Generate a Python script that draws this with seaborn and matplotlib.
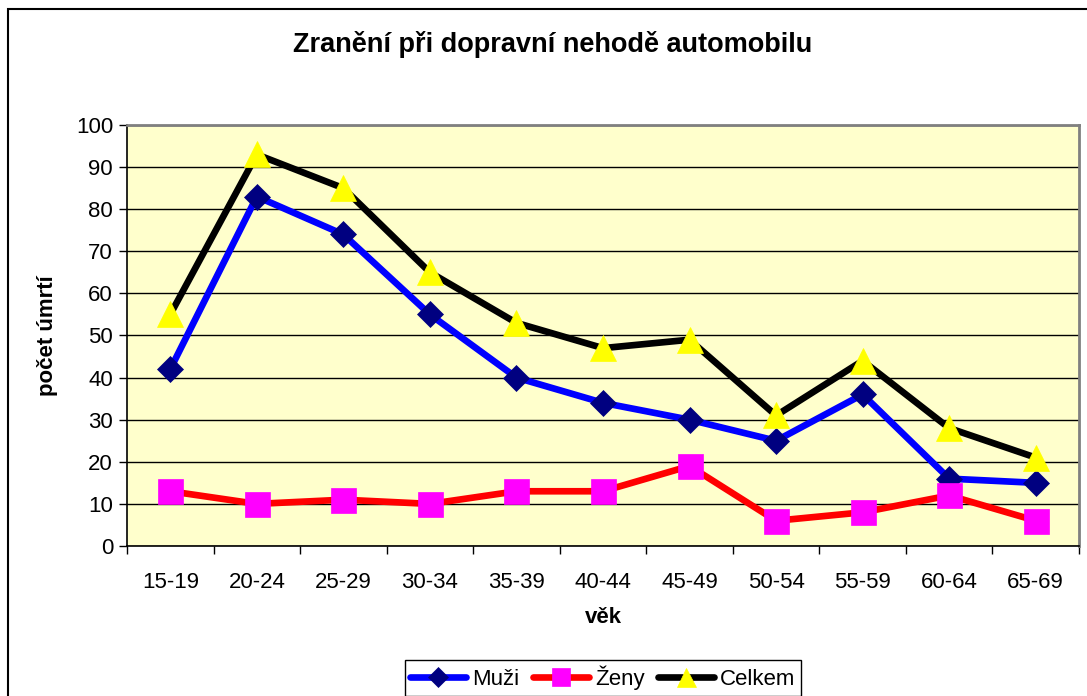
import matplotlib
matplotlib.use("Agg")
import matplotlib.pyplot as plt
import seaborn as sns
import pandas as pd
from matplotlib.patches import Rectangle
from matplotlib.ticker import FixedLocator, NullFormatter

categories = ["15-19", "20-24", "25-29", "30-34", "35-39", "40-44",
              "45-49", "50-54", "55-59", "60-64", "65-69"]
muzi = [42, 83, 74, 55, 40, 34, 30, 25, 36, 16, 15]
zeny = [13, 10, 11, 10, 13, 13, 19, 6, 8, 12, 6]
celkem = [55, 93, 85, 65, 53, 47, 49, 31, 44, 28, 21]
yticks = list(range(0, 101, 10))

sns.set_style("white")
plt.rcParams['font.family'] = ['Liberation Sans', 'DejaVu Sans']
plt.rcParams.update({"text.color": "black", "axes.labelcolor": "black",
                     "xtick.color": "black", "ytick.color": "black"})

fig = plt.figure(figsize=(10.87, 6.96), dpi=100)
ax = fig.add_axes([127/1087, 1-546/696, (1079-127)/1087, (546-125)/696])
ax.set_facecolor("#FFFFCC")

pos = list(range(len(categories)))
series = [
    ("Muži", muzi, dict(color="#0000FF", marker="D", markerfacecolor="#000080",
                        markeredgecolor="#000080", markersize=13.5)),
    ("Ženy", zeny, dict(color="#FF0000", marker="s", markerfacecolor="#FF00FF",
                        markeredgecolor="#FF00FF", markersize=18)),
    ("Celkem", celkem, dict(color="#000000", marker="^", markerfacecolor="#FFFF00",
                            markeredgecolor="#FFFF00", markersize=19)),
]
handles = []
for name, vals, style in series:
    df = pd.DataFrame({"x": pos, "y": vals})
    sns.lineplot(data=df, x="x", y="y", ax=ax, linewidth=4.8, label=name,
                 legend=False, markeredgewidth=0.5, clip_on=False, zorder=3, **style)
    handles.append(ax.lines[-1])

ax.set_xlim(-0.5, len(categories) - 0.5)
ax.set_ylim(0, 100)
ax.set_yticks(yticks)
ax.set_yticklabels([str(v) for v in yticks])
ax.yaxis.grid(True, color="black", linewidth=1.0)
ax.set_axisbelow(True)

# x ticks at category boundaries, labels at centers
ax.xaxis.set_major_locator(FixedLocator([i - 0.5 for i in range(len(categories) + 1)]))
ax.xaxis.set_major_formatter(NullFormatter())
ax.xaxis.set_minor_locator(FixedLocator(pos))
ax.set_xticklabels(categories, minor=True)
ax.tick_params(axis="x", which="major", direction="out", length=6, width=1, color="black", bottom=True)
ax.tick_params(axis="x", which="minor", length=0, labelsize=16, pad=19, bottom=True)
ax.tick_params(axis="y", direction="out", length=6, width=1, color="black", labelsize=16, pad=4, left=True)

for s in ["left", "bottom"]:
    ax.spines[s].set_color("black")
    ax.spines[s].set_linewidth(1.2)
for s in ["top", "right"]:
    ax.spines[s].set_color("#808080")
    ax.spines[s].set_linewidth(2)

ax.set_xlabel("věk", fontsize=16, fontweight="bold")
ax.set_ylabel("počet úmrtí", fontsize=16, fontweight="bold")
ax.xaxis.set_label_coords(0.5, -(607 - 546) / 421)
ax.yaxis.set_label_coords(-(127 - 58) / 952, 0.5)

fig.text(553/1087, 1-45/696, "Zranění při dopravní nehodě automobilu",
         fontsize=19.5, fontweight="bold", ha="center", va="center")

leg = fig.legend(handles=handles, labels=[h.get_label() for h in handles],
                 loc="center", bbox_to_anchor=(603/1087, 1-678/696), ncol=3,
                 fontsize=16, frameon=True, fancybox=False, framealpha=1,
                 edgecolor="black", handlelength=2.5, columnspacing=0.6,
                 handletextpad=0.3, borderpad=0.25, borderaxespad=0)
leg.get_frame().set_linewidth(1.0)
for h in leg.legend_handles:
    h.set_markersize(h.get_markersize() * 0.72)

fig.patches.append(Rectangle((8/1087, -0.01), 1.0, 1 - 9/696 + 0.01,
                             transform=fig.transFigure, fill=False,
                             edgecolor="black", linewidth=1.5, zorder=0))

fig.savefig("out.png", dpi=100)
